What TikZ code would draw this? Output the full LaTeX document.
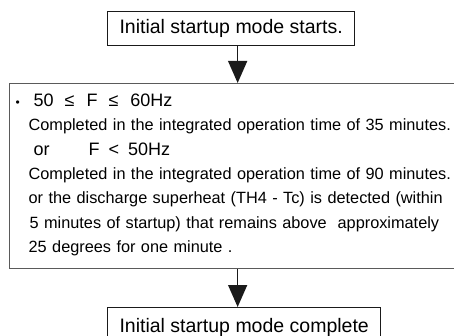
\documentclass[tikz,border=0pt]{standalone}
\usepackage{fontspec}
\setmainfont{Liberation Sans}
\usepackage{tikz}
\usetikzlibrary{arrows.meta,positioning}
\definecolor{Borde}{HTML}{5A5A5A}
\definecolor{Negro}{HTML}{1A1A1A}

\begin{document}
\begin{tikzpicture}[
  x=1pt,y=-1pt,
  >=Latex,
  flow/.style={-{Triangle[length=22pt,width=19pt]},line width=1.5pt,draw=Negro},
  modebox/.style={draw=Negro,line width=1.1pt,anchor=north west,inner xsep=12pt,
    font=\fontsize{19.5}{22}\selectfont,text height=14pt,text depth=4pt},
  condbox/.style={draw=Borde,line width=1.3pt,anchor=north west,inner xsep=6pt,
    inner ysep=6pt,text width=444pt,align=left,font=\fontsize{16.3}{24.3}\selectfont}
]
  \clip (0,0) rectangle (454,336);
  % Inicio del modo de arranque.
  \node[modebox,inner ysep=8pt] (start) at (107,11) {Initial startup mode starts.};

  % Condiciones de fin.
  \node[condbox] (cond) at (9,83) {%
    \mbox{\rule{0pt}{17pt}\makebox[18pt][l]{\fontsize{12}{12}\selectfont\textbullet}%
    \fontsize{18}{24.3}\selectfont 50\hspace{11pt}≤\hspace{12pt}F\hspace{11pt}≤\hspace{12pt}60Hz}\\
    \mbox{\hspace*{13pt}Completed in the integrated operation time of 35 minutes.}\\
    \mbox{\hspace*{18pt}\fontsize{18}{24.3}\selectfont\makebox[55pt][l]{or}F\hspace{9pt}<\hspace{9pt}50Hz}\\
    \mbox{\hspace*{13pt}Completed in the integrated operation time of 90 minutes.}\\
    \mbox{\hspace*{13pt}or the discharge superheat (TH4 - Tc) is detected (within}\\
    \mbox{\hspace*{14pt}5 minutes of startup) that remains above\ \ approximately}\\
    \mbox{\hspace*{13pt}25 degrees for one minute .\rule[-10pt]{0pt}{10pt}}};

  % Fin del modo de arranque.
  \node[modebox,inner ysep=11pt] (done) at (107,307) {Initial startup mode complete};

  \draw[flow] (start.south -| cond.north) -- (cond.north);
  \draw[flow] (cond.south) -- (done.north -| cond.south);
\end{tikzpicture}
\end{document}
